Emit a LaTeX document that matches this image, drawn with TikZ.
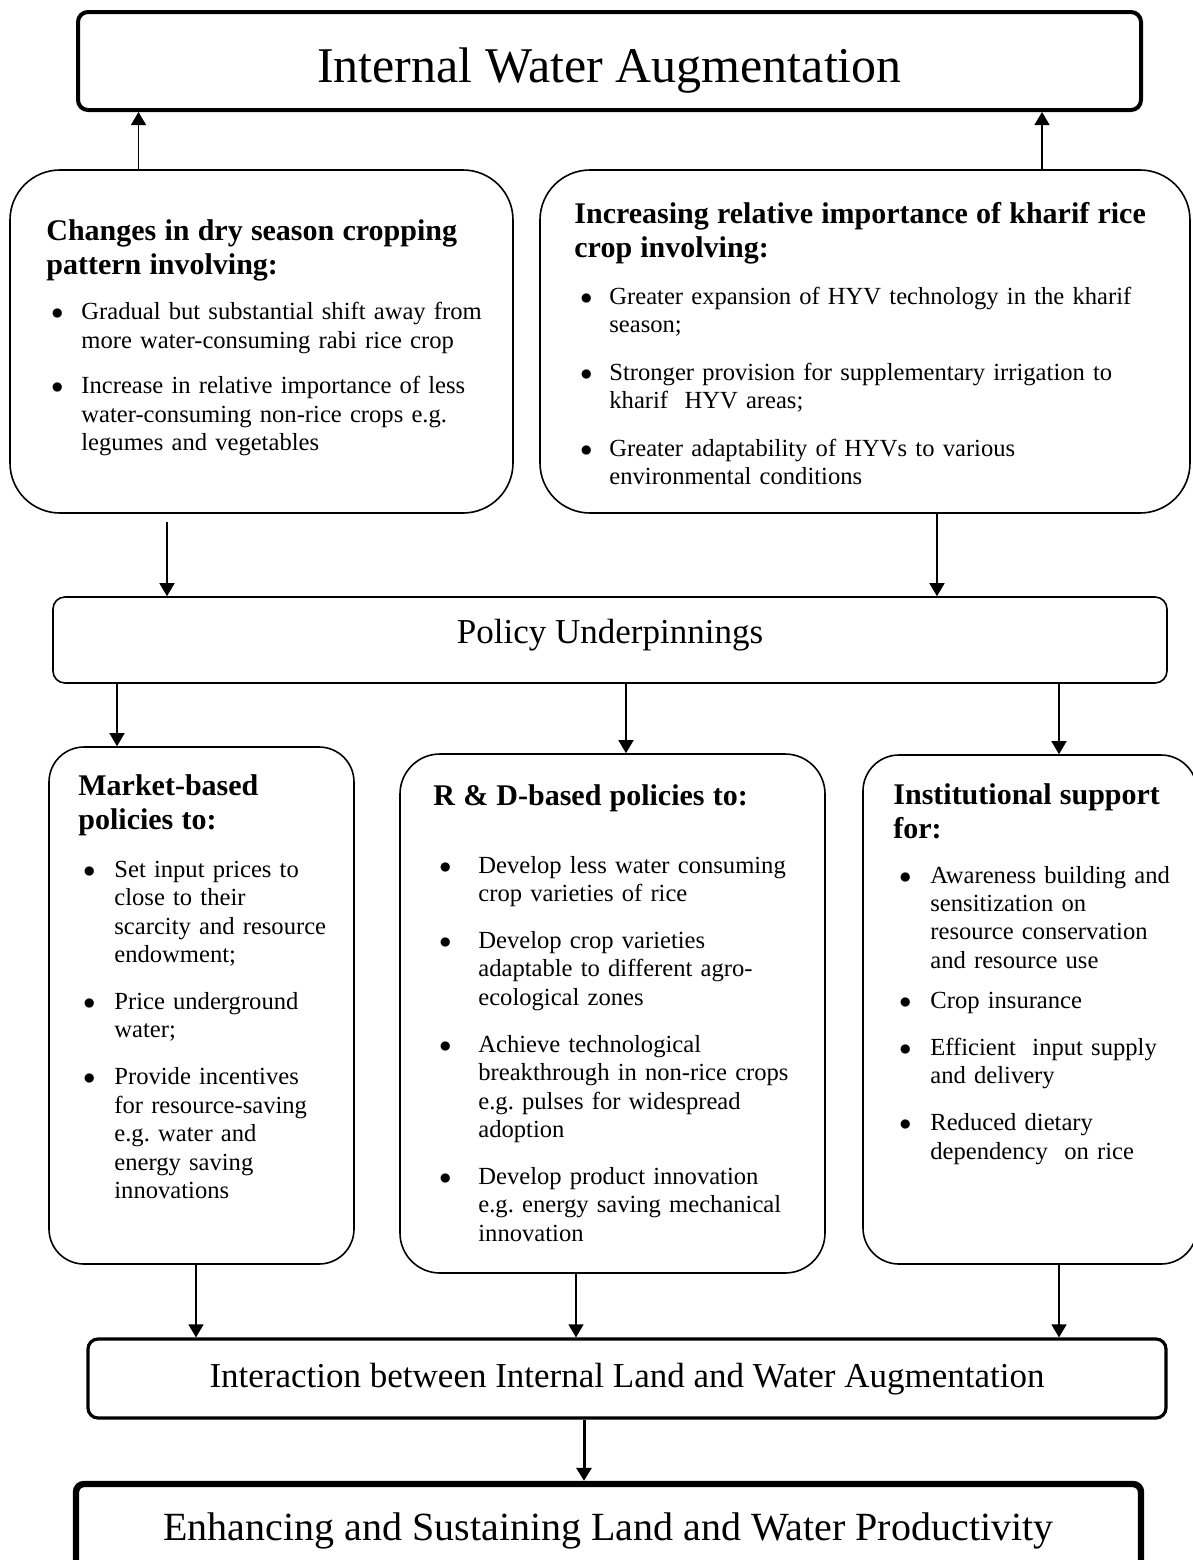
\documentclass[tikz,border=0pt]{standalone}
\usepackage{fontspec}
\setmainfont{Liberation Serif}
\usetikzlibrary{arrows.meta}
\frenchspacing

\newlength\bulpos
\newlength\bulind
\newlength\bulgap
\newcommand{\bset}[3]{\raggedright\setlength\bulpos{#1}\setlength\bulind{#2}\setlength\bulgap{#3}}
\newcommand{\hdr}[1]{{\bfseries\fontsize{15}{17}\selectfont #1\par}}
\newcommand{\bul}[2][\bulgap]{\par\vspace{#1}\hangindent=\bulind\hangafter=0\noindent
  \llap{\makebox[\bulind][l]{\hspace{\bulpos}$\bullet$}}#2\par}

\tikzset{
  mainbox/.style={draw, rounded corners=5pt, inner sep=0pt},
  panel/.style={draw, line width=0.8pt, inner sep=0pt},
  bartext/.style={font=\fontsize{17.5}{21}\selectfont},
  txt/.style={anchor=base west, inner sep=0pt, align=left, font=\fontsize{12.3}{14.2}\selectfont},
  link/.style={-{Triangle[length=6.5pt,width=7.5pt]}, line width=0.7pt}
}

\begin{document}
\begin{tikzpicture}[x=0.5pt, y=-0.5pt]
  \useasboundingbox (0,0) rectangle (1193,1560);
  \clip (0,0) rectangle (1193,1560);

  \node[mainbox, line width=2pt, minimum width=531.5pt, text height=35pt, text depth=14pt,
        font=\fontsize{25}{30}\selectfont] (title) at (609.5,61)
        {Internal Water Augmentation};

  % top panels
  \node[panel, rounded corners=25pt, minimum width=251.5pt, minimum height=171.5pt] (dry) at (261.5,341.5) {};
  \node[panel, rounded corners=25pt, minimum width=325pt, minimum height=171.5pt] (kharif) at (865,341.5) {};

  \node[txt, text width=240pt] (drytxt) at (46,240) {\bset{2.5pt}{17.5pt}{8.6pt}%
    \hdr{Changes in dry season cropping\newline pattern involving:}
    \bul{Gradual but substantial shift away from\newline more water-consuming rabi rice crop}
    \bul{Increase in relative importance of less\newline water-consuming non-rice crops e.g.\newline legumes and vegetables}};

  \node[txt, text width=305pt] (khariftxt) at (574,223) {\bset{3pt}{17.5pt}{9.5pt}%
    \hdr{Increasing relative importance of kharif rice\newline crop involving:}
    \bul{Greater expansion of HYV technology in the kharif\newline season;}
    \bul{Stronger provision for supplementary irrigation to\newline kharif\ \ HYV areas;}
    \bul{Greater adaptability of HYVs to various\newline environmental conditions}};

  \node[mainbox, draw, line width=0.8pt, rounded corners=6pt, minimum width=557pt,
        text height=23pt, text depth=20pt, bartext] (policy) at (610,640)
        {Policy Underpinnings};

  % policy panels
  \node[panel, rounded corners=17.5pt, minimum width=152.5pt, minimum height=258.5pt] (market) at (201.5,1005.5) {};
  \node[panel, rounded corners=20pt, minimum width=212.5pt, minimum height=259.5pt] (rd) at (612.5,1013.5) {};
  \node[panel, rounded corners=18pt, minimum width=167pt, minimum height=254.5pt] (inst) at (1030,1009.5) {};

  \node[txt, text width=150pt] (markettxt) at (78,795) {\bset{2.5pt}{18pt}{9.3pt}%
    \hdr{Market-based\newline policies to:}
    \bul[9.9pt]{Set input prices to\newline close to their\newline scarcity and resource\newline endowment;}
    \bul{Price underground\newline water;}
    \bul{Provide incentives\newline for resource-saving\newline e.g. water and\newline energy saving\newline innovations}};

  \node[txt, text width=200pt] (rdtxt) at (433,805) {\bset{3pt}{22.5pt}{9.3pt}%
    \hdr{R \& D-based policies to:}
    \bul[19.8pt]{Develop less water consuming\newline crop varieties of rice}
    \bul{Develop crop varieties\newline adaptable to different agro-\newline ecological zones}
    \bul{Achieve technological\newline breakthrough in non-rice crops\newline e.g. pulses for widespread\newline adoption}
    \bul{Develop product innovation\newline e.g. energy saving mechanical\newline innovation}};

  \node[txt, text width=160pt] (insttxt) at (893,804) {\bset{3pt}{18.5pt}{9.3pt}%
    \hdr{Institutional support\newline for:}
    \bul[8.3pt]{Awareness building and\newline sensitization on\newline resource conservation\newline and resource use}
    \bul[5.8pt]{Crop insurance}
    \bul{Efficient\ \ input supply\newline and delivery}
    \bul{Reduced dietary\newline dependency\ \ on rice}};

  \node[mainbox, line width=1.6pt, minimum width=539pt, text height=24pt, text depth=15.5pt,
        bartext] (interact) at (627,1378.5)
        {Interaction between Internal Land and Water Augmentation};

  \node[mainbox, line width=3.2pt, rounded corners=4pt, minimum width=532.5pt,
        text height=28pt, text depth=18pt, font=\fontsize{20}{24}\selectfont] (goal) at (608.5,1530)
        {Enhancing and Sustaining Land and Water Productivity};

  % connectors
  \draw[link] (dry.north -| 138.5,0) -- (title.south -| 138.5,0);
  \draw[link] (kharif.north -| 1042,0) -- (title.south -| 1042,0);
  \draw[link, shorten <=4pt] (dry.south -| 167,0) -- (policy.north -| 167,0);
  \draw[link] (kharif.south -| 937,0) -- (policy.north -| 937,0);
  \draw[link] (policy.south -| 117,0) -- (market.north -| 117,0);
  \draw[link] (policy.south -| 626,0) -- (rd.north -| 626,0);
  \draw[link] (policy.south -| 1059,0) -- (inst.north -| 1059,0);
  \draw[link] (market.south -| 196,0) -- (interact.north -| 196,0);
  \draw[link] (rd.south -| 576,0) -- (interact.north -| 576,0);
  \draw[link] (inst.south -| 1059,0) -- (interact.north -| 1059,0);
  \draw[link, line width=1.5pt] (interact.south -| 584,0) -- (goal.north -| 584,0);
\end{tikzpicture}
\end{document}
